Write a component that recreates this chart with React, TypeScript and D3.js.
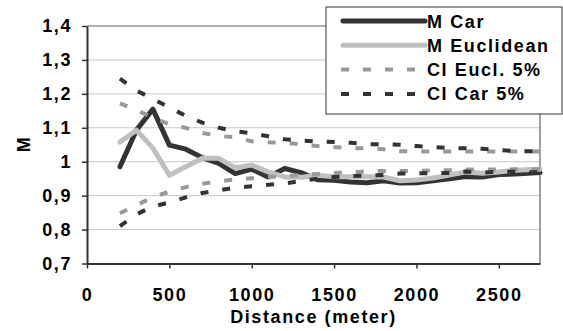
import React, { useRef, useEffect } from "react"
import * as d3 from "d3"

// distance in meter
const distances = [200, 300, 400, 500, 600, 700, 800, 900, 1000, 1100, 1200, 1300, 1400, 1500, 1600, 1700, 1800, 1900, 2000, 2100, 2200, 2300, 2400, 2500, 2600, 2700, 2750]

const mCar = [0.985, 1.093, 1.155, 1.049, 1.037, 1.012, 0.995, 0.965, 0.978, 0.955, 0.98, 0.968, 0.947, 0.945, 0.94, 0.938, 0.944, 0.937, 0.938, 0.944, 0.95, 0.956, 0.955, 0.962, 0.964, 0.967, 0.968]
const mEuclidean = [1.058, 1.093, 1.04, 0.96, 0.985, 1.01, 1.01, 0.982, 0.99, 0.97, 0.955, 0.954, 0.96, 0.956, 0.956, 0.956, 0.955, 0.944, 0.946, 0.952, 0.961, 0.97, 0.966, 0.97, 0.975, 0.977, 0.978]
const ciEuclUpper = [1.172, 1.152, 1.13, 1.11, 1.1, 1.085, 1.076, 1.072, 1.06, 1.057, 1.056, 1.051, 1.046, 1.043, 1.04, 1.04, 1.037, 1.031, 1.03, 1.03, 1.03, 1.03, 1.03, 1.03, 1.03, 1.03, 1.03]
const ciEuclLower = [0.848, 0.872, 0.895, 0.912, 0.925, 0.935, 0.942, 0.948, 0.951, 0.955, 0.958, 0.961, 0.964, 0.967, 0.969, 0.971, 0.973, 0.973, 0.973, 0.974, 0.975, 0.977, 0.977, 0.977, 0.978, 0.978, 0.978]
const ciCarUpper = [1.245, 1.21, 1.185, 1.16, 1.135, 1.115, 1.1, 1.09, 1.084, 1.075, 1.066, 1.062, 1.06, 1.058, 1.056, 1.052, 1.051, 1.05, 1.046, 1.043, 1.04, 1.04, 1.038, 1.035, 1.031, 1.031, 1.031]
const ciCarLower = [0.81, 0.845, 0.868, 0.88, 0.895, 0.908, 0.916, 0.923, 0.928, 0.932, 0.936, 0.943, 0.95, 0.955, 0.958, 0.959, 0.961, 0.965, 0.966, 0.966, 0.967, 0.971, 0.968, 0.97, 0.971, 0.969, 0.969]

const xTicks = [0, 500, 1000, 1500, 2000, 2500]
const yTicks = [0.7, 0.8, 0.9, 1.0, 1.1, 1.2, 1.3, 1.4]

const legendItems = [
    { label: "M Car", color: "#333333", width: 5, dash: "" },
    { label: "M Euclidean", color: "#c0c0c0", width: 5, dash: "" },
    { label: "CI Eucl. 5%", color: "#999999", width: 4, dash: "8,14" },
    { label: "CI Car 5%", color: "#333333", width: 4, dash: "8,14" },
]

export default function App() {
    const svgRef = useRef<SVGSVGElement>(null)

    useEffect(() => {
        if (!svgRef.current) return
        const svg = d3.select(svgRef.current)
        svg.selectAll("*").remove()

        const width = 563
        const height = 331
        const margin = { top: 26, right: 23, bottom: 67.5, left: 87 }
        const innerWidth = width - margin.left - margin.right
        const innerHeight = height - margin.top - margin.bottom
        const font = "Arial, 'Liberation Sans', sans-serif"
        const fontSize = "18px"
        const spacing = "1.6px"

        svg.attr("width", width).attr("height", height)
        svg.append("rect").attr("width", width).attr("height", height).attr("fill", "#fff")

        const g = svg.append("g").attr("transform", `translate(${margin.left},${margin.top})`)

        const x = d3.scaleLinear().domain([0, 2750]).range([0, innerWidth])
        const y = d3.scaleLinear().domain([0.7, 1.4]).range([innerHeight, 0])

        // Grid lines
        g.append("g")
            .selectAll("line")
            .data(yTicks.slice(1))
            .join("line")
            .attr("x1", 0)
            .attr("x2", innerWidth)
            .attr("y1", d => y(d))
            .attr("y2", d => y(d))
            .attr("stroke", "#c8c8c8")
            .attr("stroke-width", 1)

        // plot area border
        g.append("line")
            .attr("x1", innerWidth).attr("x2", innerWidth)
            .attr("y1", 0).attr("y2", innerHeight)
            .attr("stroke", "#808080").attr("stroke-width", 1.5)
        g.append("line")
            .attr("x1", 0).attr("x2", innerWidth)
            .attr("y1", 0).attr("y2", 0)
            .attr("stroke", "#808080").attr("stroke-width", 1)

        const series = [
            { values: mCar, ...legendItems[0] },
            { values: mEuclidean, ...legendItems[1] },
            { values: ciEuclUpper, ...legendItems[2] },
            { values: ciEuclLower, ...legendItems[2] },
            { values: ciCarUpper, ...legendItems[3] },
            { values: ciCarLower, ...legendItems[3] },
        ]

        const line = d3.line<number>()
            .x((_, i) => x(distances[i]))
            .y(d => y(d))

        series.forEach(s => {
            g.append("path")
                .datum(s.values)
                .attr("fill", "none")
                .attr("stroke", s.color)
                .attr("stroke-width", s.width)
                .attr("stroke-dasharray", s.dash || null)
                .attr("stroke-linejoin", "round")
                .attr("stroke-linecap", s.dash ? "butt" : "round")
                .attr("d", line)
        })

        // X Axis
        const xAxis = g.append("g")
            .attr("transform", `translate(0,${innerHeight})`)
            .call(d3.axisBottom(x).tickValues(xTicks).tickSize(5).tickSizeOuter(0).tickPadding(20).tickFormat(d3.format("d") as any))
        xAxis.select(".domain").attr("stroke", "#333").attr("stroke-width", 2)
        xAxis.selectAll(".tick line").attr("stroke", "#333").attr("stroke-width", 1.5)
        xAxis.selectAll("text")
            .attr("fill", "#000")
            .attr("font-family", font)
            .attr("font-weight", "bold")
            .attr("font-size", fontSize)
            .attr("letter-spacing", spacing)

        // Y Axis
        const yAxis = g.append("g")
            .call(d3.axisLeft(y).tickValues(yTicks).tickSize(5).tickSizeOuter(0).tickPadding(10)
                .tickFormat(d => (+d === 1 ? "1" : d3.format(".1f")(+d).replace(".", ","))))
        yAxis.select(".domain").attr("stroke", "#333").attr("stroke-width", 2)
        yAxis.selectAll(".tick line").attr("stroke", "#333").attr("stroke-width", 1.5)
        yAxis.selectAll("text")
            .attr("fill", "#000")
            .attr("font-family", font)
            .attr("font-weight", "bold")
            .attr("font-size", fontSize)
            .attr("letter-spacing", spacing)

        // Axis titles
        svg.append("text")
            .attr("x", margin.left + innerWidth / 2)
            .attr("y", 323)
            .attr("text-anchor", "middle")
            .attr("font-family", font)
            .attr("font-weight", "bold")
            .attr("font-size", fontSize)
            .attr("letter-spacing", spacing)
            .text("Distance (meter)")

        svg.append("text")
            .attr("transform", `translate(30,${margin.top + innerHeight / 2}) rotate(-90)`)
            .attr("text-anchor", "middle")
            .attr("font-family", font)
            .attr("font-weight", "bold")
            .attr("font-size", fontSize)
            .text("M")

        // Legend
        const legend = svg.append("g").attr("transform", "translate(326,7)")
        legend.append("rect")
            .attr("width", 236)
            .attr("height", 107)
            .attr("fill", "#fff")
            .attr("stroke", "#333")
            .attr("stroke-width", 1)

        legendItems.forEach((item, i) => {
            const cy = 14 + i * 24.3
            legend.append("line")
                .attr("x1", item.dash ? 15 : 17)
                .attr("x2", 99)
                .attr("y1", cy)
                .attr("y2", cy)
                .attr("stroke", item.color)
                .attr("stroke-width", item.width)
                .attr("stroke-linecap", item.dash ? "butt" : "round")
                .attr("stroke-dasharray", item.dash ? "8,14" : null)
            legend.append("text")
                .attr("x", 101)
                .attr("y", cy + 6.5)
                .attr("font-family", font)
                .attr("font-weight", "bold")
                .attr("font-size", fontSize)
                .attr("letter-spacing", spacing)
                .text(item.label)
        })
    }, [])

    return (
        <div style={{ position: "absolute", left: 0, top: 0 }}>
            <svg ref={svgRef} style={{ display: "block" }} />
        </div>
    )
}
